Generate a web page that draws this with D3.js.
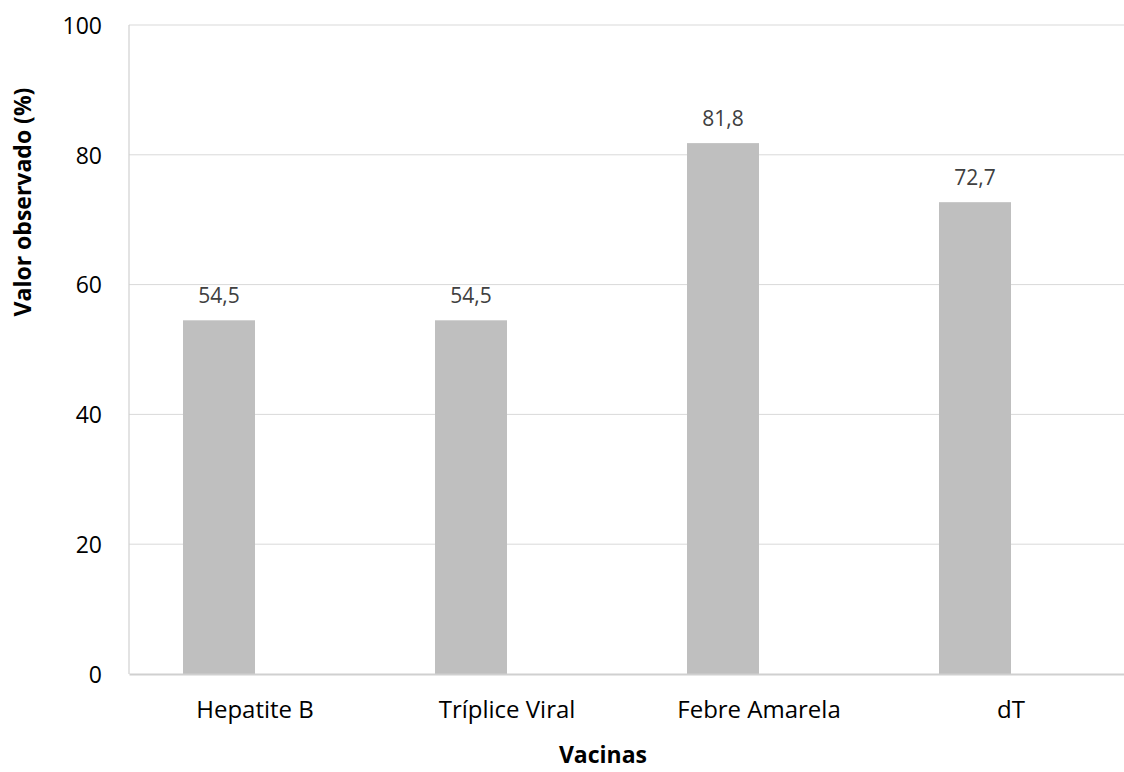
<!DOCTYPE html>
<html>
<head>
<meta charset="utf-8">
<script src="https://cdn.jsdelivr.net/npm/d3@7"></script>
<style>
  html, body { margin: 0; padding: 0; background: #fff; }
  svg { display: block; }
  text { font-family: "Open Sans", sans-serif; }
</style>
</head>
<body>
<svg id="chart" width="1124" height="772"></svg>
<script>
// Data
const categories = ["Hepatite B", "Tríplice Viral", "Febre Amarela", "dT"];
const values = [54.5, 54.5, 81.8, 72.7];
const valueLabels = ["54,5", "54,5", "81,8", "72,7"];
const yTicks = [0, 20, 40, 60, 80, 100];
const seriesNames = ["Valor observado", "(vazio)"];
const xTitle = "Vacinas";
const yTitle = "Valor observado (%)";

const svg = d3.select("#chart");
const plot = { left: 129, right: 1137, top: 25, bottom: 674 };

const x = d3.scaleBand()
  .domain(categories)
  .range([plot.left, plot.right])
  .paddingInner(108 / 252)
  .paddingOuter(54 / 252);

const xs = d3.scaleBand()
  .domain(seriesNames)
  .range([0, x.bandwidth()]);

const y = d3.scaleLinear()
  .domain([0, 100])
  .range([plot.bottom, plot.top]);

// gridlines
svg.append("g")
  .selectAll("line")
  .data(yTicks.filter(d => d > 0))
  .join("line")
  .attr("x1", plot.left).attr("x2", plot.right)
  .attr("y1", d => y(d)).attr("y2", d => y(d))
  .attr("stroke", "#d9d9d9").attr("stroke-width", 1);

// left border
svg.append("line")
  .attr("x1", plot.left).attr("x2", plot.left)
  .attr("y1", plot.top).attr("y2", plot.bottom)
  .attr("stroke", "#d0d0d0").attr("stroke-width", 1.2);

// y axis labels
const yAxis = d3.axisLeft(y).tickValues(yTicks).tickSize(0).tickPadding(0).tickFormat(d3.format("d"));
const gy = svg.append("g").attr("transform", `translate(${plot.left - 27},0)`).call(yAxis);
gy.select(".domain").remove();
gy.selectAll("text")
  .attr("font-family", "'Open Sans', sans-serif")
  .attr("font-size", 23)
  .attr("fill", "#000")
  .attr("dy", "0.36em");

// bars
svg.append("g")
  .selectAll("rect")
  .data(categories.map((c, i) => ({ c, v: values[i], l: valueLabels[i] })))
  .join("rect")
  .attr("x", d => x(d.c) + xs(seriesNames[0]))
  .attr("width", xs.bandwidth())
  .attr("y", d => y(d.v))
  .attr("height", d => y(0) - y(d.v))
  .attr("fill", "#bfbfbf");

// bar value labels
svg.append("g")
  .selectAll("text")
  .data(categories.map((c, i) => ({ c, v: values[i], l: valueLabels[i] })))
  .join("text")
  .attr("x", d => x(d.c) + xs(seriesNames[0]) + xs.bandwidth() / 2)
  .attr("y", d => y(d.v) - 17)
  .attr("text-anchor", "middle")
  .attr("font-size", 21)
  .attr("fill", "#404040")
  .text(d => d.l);

// x axis
const xAxis = d3.axisBottom(x).tickSize(0).tickPadding(0);
const gx = svg.append("g").attr("transform", `translate(0,${plot.bottom})`).call(xAxis);
gx.select(".domain").attr("stroke", "#d0d0d0").attr("stroke-width", 1.8);
gx.selectAll("text")
  .attr("font-family", "'Open Sans', sans-serif")
  .attr("font-size", 24)
  .attr("fill", "#000")
  .attr("dy", 0)
  .attr("y", 44);

// axis titles
svg.append("text")
  .attr("x", 603)
  .attr("y", 763)
  .attr("text-anchor", "middle")
  .attr("font-size", 23)
  .attr("font-weight", "bold")
  .attr("fill", "#000")
  .text(xTitle);

svg.append("text")
  .attr("transform", `translate(31,202) rotate(-90)`)
  .attr("text-anchor", "middle")
  .attr("font-size", 23)
  .attr("font-weight", "bold")
  .attr("fill", "#000")
  .text(yTitle);
</script>
</body>
</html>
